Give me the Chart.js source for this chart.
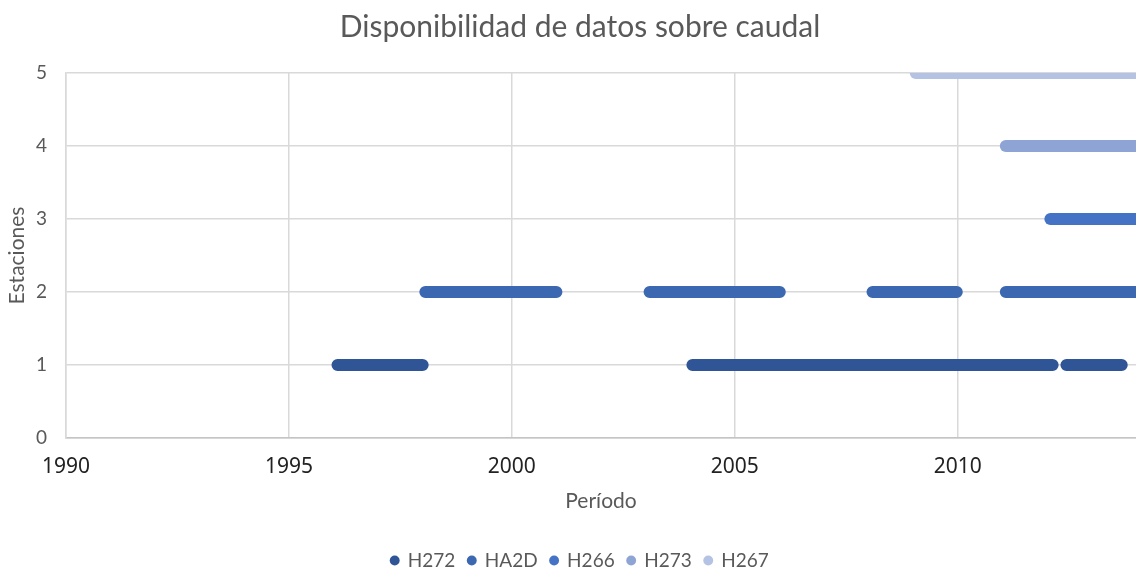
<!DOCTYPE html>
<html>
<head>
<meta charset="utf-8">
<script src="https://cdn.jsdelivr.net/npm/chart.js@4/dist/chart.umd.min.js"></script>
<style>
  html, body { margin: 0; padding: 0; background: #ffffff; overflow: hidden; }
  #wrap { width: 1136px; height: 567px; position: relative; }
</style>
</head>
<body>
<div id="wrap"><canvas id="c"></canvas></div>
<script>
// ---- Data ----
const seriesNames = ['H272', 'HA2D', 'H266', 'H273', 'H267'];
const stationLevels = [1, 2, 3, 4, 5];
const seriesColors = ['#2F5597', '#3C67B1', '#4472C4', '#8EA4D4', '#B4C2E4'];

// Periods with data: [start year, end year]
const periodsH272 = [[1996.09, 1998.0], [2004.05, 2012.13], [2012.44, 2013.68]];
const periodsHA2D = [[1998.06, 2001.0], [2003.09, 2006.01], [2008.09, 2009.98], [2011.08, 2015.0]];
const periodsH266 = [[2012.08, 2015.0]];
const periodsH273 = [[2011.08, 2015.0]];
const periodsH267 = [[2009.06, 2015.0]];

const xTickValues = [1990, 1995, 2000, 2005, 2010];
const yTickValues = [0, 1, 2, 3, 4, 5];
// the original chart continues past the right edge of the picture
const xRange = [1990, 2014];

const allPeriods = [periodsH272, periodsHA2D, periodsH266, periodsH273, periodsH267];

function toPoints(periods, level) {
  const pts = [];
  periods.forEach(([a, b]) => {
    pts.push({x: a, y: level});
    pts.push({x: b, y: level});
    pts.push({x: b, y: null});
  });
  return pts;
}

const datasets = seriesNames.map((name, i) => ({
  label: name,
  data: toPoints(allPeriods[i], stationLevels[i]),
  showLine: true,
  spanGaps: false,
  borderColor: seriesColors[i],
  backgroundColor: seriesColors[i],
  borderWidth: 12,
  borderCapStyle: 'round',
  pointRadius: 0,
  pointHoverRadius: 0,
  pointStyle: 'circle'
}));

const grayText = '#595959';

new Chart(document.getElementById('c'), {
  type: 'scatter',
  data: { datasets },
  options: {
    responsive: true,
    maintainAspectRatio: false,
    animation: false,
    layout: { padding: { left: 0, right: -24, top: 0, bottom: -13 } },
    plugins: {
      title: {
        display: true,
        text: 'Disponibilidad de datos sobre caudal',
        color: grayText,
        font: { family: 'Lato', size: 30, weight: 'normal' },
        padding: { top: 9, bottom: 28 }
      },
      legend: {
        display: true,
        position: 'bottom',
        labels: {
          usePointStyle: true,
          boxWidth: 7,
          boxHeight: 7,
          padding: 13,
          color: grayText,
          font: { family: 'Lato', size: 19 },
          generateLabels: (chart) => Chart.defaults.plugins.legend.labels.generateLabels(chart)
            .map(l => Object.assign(l, { lineWidth: 0, strokeStyle: l.fillStyle }))
        }
      },
      tooltip: { enabled: false }
    },
    scales: {
      x: {
        type: 'linear',
        min: xRange[0],
        max: xRange[1],
        afterBuildTicks: (scale) => { scale.ticks = xTickValues.map(v => ({ value: v })); },
        afterFit: (scale) => { scale.height = 100; },
        ticks: {
          color: '#222222',
          font: { family: 'Noto Sans', size: 21 },
          padding: 16,
          maxRotation: 0,
          callback: (v) => String(v)
        },
        grid: { color: '#d9d9d9', lineWidth: 1.5, drawTicks: false },
        border: { color: '#c4c4c4', width: 1.5 },
        title: {
          display: true,
          text: 'Período',
          color: grayText,
          font: { family: 'Lato', size: 21 },
          padding: { top: 0, bottom: 24 }
        }
      },
      y: {
        type: 'linear',
        min: 0,
        max: 5,
        afterBuildTicks: (scale) => { scale.ticks = yTickValues.map(v => ({ value: v })); },
        afterFit: (scale) => { scale.width = 66; },
        ticks: {
          color: grayText,
          font: { family: 'Lato', size: 19 },
          padding: 19
        },
        grid: { color: '#d9d9d9', lineWidth: 1.5, drawTicks: false },
        border: { color: '#d9d9d9', width: 1.5 },
        title: {
          display: true,
          text: 'Estaciones',
          color: grayText,
          font: { family: 'Lato', size: 21 },
          padding: { top: 5, bottom: 0 }
        }
      }
    }
  }
});
</script>
</body>
</html>
